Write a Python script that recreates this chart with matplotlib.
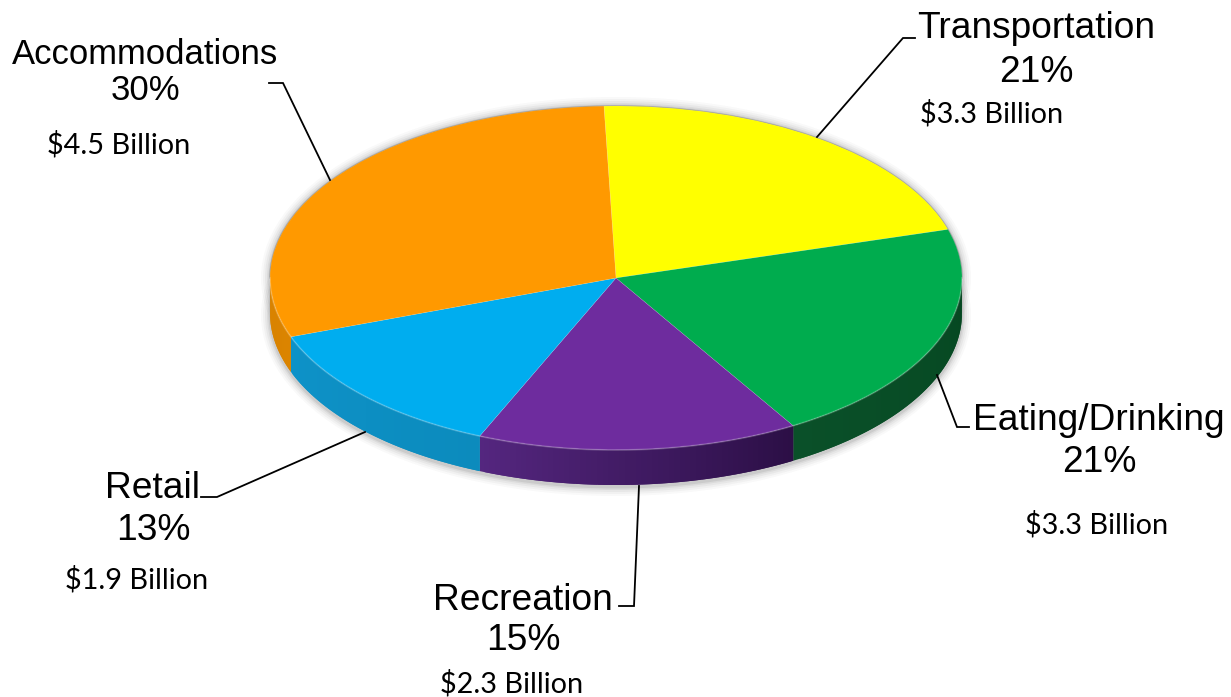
import numpy as np
import matplotlib
matplotlib.use('Agg')
import matplotlib.pyplot as plt
from matplotlib.collections import PolyCollection
from matplotlib.colors import to_rgb
from matplotlib.patches import Ellipse

W, H = 1231, 697

categories = ['Transportation', 'Eating/Drinking', 'Recreation', 'Retail', 'Accommodations']
shares = [21, 21, 15, 13, 30]
amounts = ['$3.3 Billion', '$3.3 Billion', '$2.3 Billion', '$1.9 Billion', '$4.5 Billion']

top_colors = ['#FFFF00', '#00AC4E', '#6E2C9E', '#00ADEF', '#FF9900']
side_start = ['#B5B500', '#0A5029', '#54267F', '#0D92C8', '#C97A00']
side_end = ['#B5B500', '#04451F', '#2C0F46', '#0C8BBD', '#DB8400']

# pixel geometry of the pie
cx, cy, rx, ry, depth = 616, 278, 346, 172, 35
start_angle = 92

# text centres and leader lines, in pixels
name_xy = [(1036, 29), (1099, 421), (523, 600), (153, 488), (145, 55)]
pct_xy = [(1036, 72), (1099, 462), (523, 641), (153, 531), (145, 90)]
amount_xy = [(992, 114), (1097, 525), (512, 684), (137, 580), (119, 145)]
name_size = [26.7, 26.7, 26.7, 26.7, 24.9]
leaders = [
    [(817, 137), (903, 38), (915, 38)],
    [(937, 375), (957, 427), (969, 427)],
    [(639, 486), (634, 606), (619, 606)],
    [(365, 432), (217, 497), (201, 497)],
    [(330, 180), (283, 83), (269, 83)],
]

fig = plt.figure(figsize=(W / 100, H / 100), dpi=100, facecolor='white')

# pie axes: unit circle maps on to the ellipse
ax = fig.add_axes([0, 0, 1, 1], zorder=1)
wedges, _ = ax.pie(shares, colors=top_colors, startangle=start_angle, counterclock=False,
                   wedgeprops={'linewidth': 0.5, 'edgecolor': '#FFFFFF20'})
for w in wedges:
    w.set_zorder(5)
ax.set_aspect('auto')
ax.set_xlim(-cx / rx, (W - cx) / rx)
ax.set_ylim((cy - H) / ry, cy / ry)
drop = depth / ry

# soft shadow round the body
for grow, alpha in [(9, 0.03), (7, 0.04), (5, 0.05), (3, 0.07), (1.5, 0.10)]:
    for dy in [drop + 2 / ry, 0.0]:
        ax.add_patch(Ellipse((0, -dy), 2 + 2 * grow / rx, 2 + 2 * grow / ry, fc='#404040',
                             ec='none', alpha=alpha, zorder=1))
ax.add_patch(Ellipse((0, 0), 2.0, 2.0, fc='white', ec='none', zorder=1.5))

# side wall, split in strips that overlap so no seams show
for w, c0, c1 in zip(wedges, side_start, side_end):
    a0, a1 = w.theta1 % 360, w.theta2 % 360
    if a1 < a0:
        a1 += 360
    ts = np.radians(np.linspace(a0, a1, 60))
    c0, c1 = np.array(to_rgb(c0)), np.array(to_rgb(c1))
    polys, cols = [], []
    for i in range(len(ts) - 1):
        t0, t1 = ts[i], ts[min(i + 2, len(ts) - 1)]
        if np.sin((t0 + t1) / 2) > 0.02:
            continue
        arc = np.linspace(t0, t1, 5)
        upper = np.column_stack([np.cos(arc), np.sin(arc)])
        lower = upper[::-1] - [0, drop]
        polys.append(np.vstack([upper, lower]))
        cols.append(c0 + (c1 - c0) * i / (len(ts) - 2))
    if polys:
        ax.add_collection(PolyCollection(polys, facecolors=cols, edgecolors='none', zorder=3),
                          autolim=False)

# light bevel on the front rim, thin grey on the back rim
t = np.radians(np.linspace(180, 360, 300))
ax.plot(np.cos(t), np.sin(t), color='white', alpha=0.18, lw=1.3, zorder=6)
t = np.radians(np.linspace(0, 180, 300))
ax.plot(np.cos(t), np.sin(t), color='#9A9A9A', lw=0.9, zorder=4)

# overlay in pixel coordinates for labels
ov = fig.add_axes([0, 0, 1, 1], zorder=2)
ov.set_xlim(0, W)
ov.set_ylim(H, 0)
ov.axis('off')

for line in leaders:
    xs, ys = zip(*line)
    ov.plot(xs, ys, color='black', lw=1.3, solid_joinstyle='miter')

for name, pct, amt, nxy, pxy, axy, ns in zip(categories, shares, amounts, name_xy, pct_xy, amount_xy, name_size):
    ov.text(*nxy, name, ha='center', va='center', fontsize=ns, family='Liberation Sans')
    ov.text(*pxy, f'{pct}%', ha='center', va='center', fontsize=ns, family='Liberation Sans')
    ov.text(*axy, amt, ha='center', va='center', fontsize=20.8, family='Lato')

fig.savefig('out.png', dpi=100)
